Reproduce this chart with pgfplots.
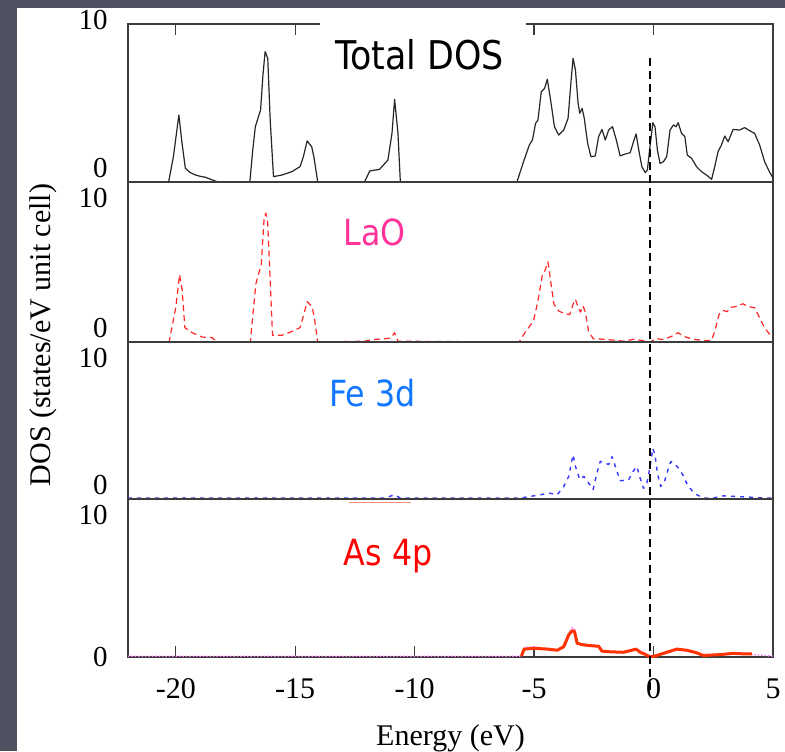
\documentclass[border=0pt]{standalone}
\usepackage{pgfplots}
\pgfplotsset{compat=1.18}
\usepackage{fontspec}
\setmainfont{Liberation Serif}
\newfontfamily\labelfont[FakeStretch=0.88]{DejaVu Sans}

\definecolor{slide}{RGB}{79,81,97}
\definecolor{framegray}{RGB}{60,60,60}
\definecolor{laored}{RGB}{255,40,40}
\definecolor{laotext}{RGB}{255,51,153}
\definecolor{feblue}{RGB}{55,55,255}
\definecolor{fetext}{RGB}{17,119,255}
\definecolor{asline}{RGB}{255,51,0}
\definecolor{asdot}{RGB}{255,110,255}
\definecolor{salmon}{RGB}{250,140,120}

% tick label raised by #1 with an empty box, so the label sits at the tick
\newcommand{\ylab}[2]{\raisebox{#1}[0pt][0pt]{#2}}

\pgfplotsset{
  panel/.style={
    scale only axis, width=322.5pt,
    anchor=south west,
    xmin=-22, xmax=5, ymin=0, ymax=10,
    axis line style={framegray, line width=0.7pt},
    ytick={0,10}, ytick style={draw=none},
    yticklabel style={font=\fontsize{14.5}{17}\selectfont, anchor=east,
      inner sep=0pt, xshift=-10pt},
    xtick={-20,-15,-10,-5,0,5},
    xtick style={framegray, line width=0.7pt},
    major tick length=5.5pt, tick align=inside,
  },
}
\tikzset{
  panellabel/.style={anchor=base west, inner sep=0pt,
    font=\labelfont\fontsize{18}{20}\selectfont},
}

\begin{document}
\begin{tikzpicture}
\useasboundingbox (0,0) rectangle (392.5pt,375.5pt);
\fill[slide] (0,0) rectangle (392.5pt,375.5pt);
\fill[white] (8.5pt,0) rectangle (392.5pt,371.5pt);

% ---- Total DOS ----
\begin{axis}[panel, at={(64pt,284.5pt)}, height=79pt,
  xtick pos=right, xticklabels={},
  yticklabel={\ifnum\ticknum=0 \ylab{2.1pt}{0}\else\ylab{-2.9pt}{10}\fi}]
\addplot[black!85, line width=0.6pt, line join=round] coordinates {
(-22,0) (-20.30,0) (-20.10,1.6) (-19.87,4.24) (-19.75,2.6) (-19.60,0.87) (-19.40,0.6)
(-19.17,0.44) (-18.95,0.35) (-18.76,0.3) (-18.50,0.15) (-18.27,0.02) (-16.90,0)
(-16.78,2.0) (-16.67,3.5) (-16.45,4.56) (-16.35,6.8) (-16.26,8.25) (-16.15,7.83)
(-16.05,4.0) (-15.91,0.34) (-15.56,0.44) (-15.15,0.65) (-14.80,0.97) (-14.66,1.6)
(-14.50,2.6) (-14.31,2.23) (-14.22,1.6) (-14.06,0.02) (-12.10,0) (-11.88,0.7)
(-11.47,0.8) (-11.12,1.39) (-10.95,3.08) (-10.84,5.23) (-10.70,3.1) (-10.60,0.02)
(-5.72,0) (-5.42,1.39) (-5.20,2.34) (-5.07,2.66) (-4.94,3.71) (-4.84,3.92) (-4.70,5.72)
(-4.56,5.93) (-4.45,6.50) (-4.31,5.19) (-4.15,3.50) (-3.97,2.97) (-3.76,3.29) (-3.58,4.03)
(-3.45,6.46) (-3.37,7.83) (-3.27,7.09) (-3.16,4.98) (-3.09,4.35) (-2.99,4.66) (-2.90,4.03)
(-2.76,2.45) (-2.62,1.60) (-2.44,1.65) (-2.30,2.87) (-2.16,3.33) (-2.02,2.66) (-1.88,3.29)
(-1.72,3.50) (-1.56,2.66) (-1.40,1.65) (-1.19,1.77) (-0.98,1.85) (-0.84,2.55) (-0.73,3.04)
(-0.62,2.03) (-0.49,0.97) (-0.35,0.59) (-0.26,0.76) (-0.15,2.23) (-0.03,3.75) (0.06,3.50)
(0.16,2.03) (0.27,1.18) (0.41,1.28) (0.55,1.60) (0.69,3.29) (0.83,3.61) (0.94,3.50)
(1.03,3.75) (1.17,3.08) (1.31,2.87) (1.41,1.71) (1.59,1.50) (1.80,0.97) (2.01,0.65)
(2.22,0.44) (2.43,0.17) (2.56,0.97) (2.70,1.92) (2.84,2.34) (2.98,2.91) (3.12,2.55)
(3.33,3.33) (3.60,3.29) (3.81,3.44) (4.02,3.25) (4.23,3.08) (4.44,2.34) (4.65,1.28)
(4.85,0.65) (5.02,0.2)
};
\coordinate (boxA) at (axis cs:-13.98,5.8);
\coordinate (boxB) at (axis cs:-5.35,10.35);
\coordinate (totlab) at (axis cs:-13.35,7.09);
\coordinate (fermiHigh) at (axis cs:-0.15,8.04);
\end{axis}

% ---- LaO ----
\begin{axis}[panel, at={(64pt,204.5pt)}, height=80pt, xtick=\empty,
  axis on top,
  yticklabel={\ifnum\ticknum=0 \ylab{2.1pt}{0}\else\ylab{-12.9pt}{10}\fi}]
\addplot[laored, line width=0.6pt, dash pattern=on 3pt off 2pt, line join=round] coordinates {
(-22,0) (-20.28,0) (-20.00,2.16) (-19.84,4.21) (-19.73,3.2) (-19.62,0.9) (-19.31,0.58)
(-18.90,0.31) (-18.48,0.27) (-18.27,0) (-16.88,0) (-16.65,3.62) (-16.42,4.87) (-16.30,7.8)
(-16.23,8.05) (-16.15,7.38) (-15.95,0.42) (-15.56,0.42) (-15.15,0.65) (-14.80,0.9)
(-14.66,1.62) (-14.50,2.52) (-14.29,2.2) (-14.18,1.32) (-14.06,0) (-12.09,0.05)
(-11.81,0.15) (-11.25,0.2) (-11.0,0.25) (-10.84,0.58) (-10.70,0.05) (-5.63,0) (-5.35,0.67)
(-5.03,1.3) (-4.84,2.56) (-4.65,4.24) (-4.55,4.45) (-4.42,5.01) (-4.31,3.82) (-4.17,2.36)
(-3.97,1.93) (-3.69,1.76) (-3.51,1.72) (-3.37,2.36) (-3.27,2.67) (-3.16,2.18) (-3.06,1.87)
(-2.95,2.25) (-2.85,1.83) (-2.72,0.67) (-2.53,0.21) (-2.09,0.17) (-1.53,0.1) (-1.26,0.05)
(-0.84,0.17) (-0.49,0.1) (-0.15,0) (0.13,0.21) (0.41,0.15) (0.76,0.36) (1.03,0.58)
(1.24,0.36) (1.66,0.17) (2.08,0.1) (2.43,0.1) (2.56,0.67) (2.74,1.72) (2.91,1.97)
(3.08,1.9) (3.26,2.18) (3.47,2.22) (3.74,2.39) (3.95,2.22) (4.23,2.14) (4.44,1.51)
(4.65,0.88) (5.0,0.21)
};
\node[panellabel, text=laotext] at (axis cs:-12.98,6.06) {LaO};
\end{axis}

% ---- Fe 3d ----
\begin{axis}[panel, at={(64pt,126pt)}, height=78.5pt, xtick=\empty,
  yticklabel={\ifnum\ticknum=0 \ylab{2.1pt}{0}\else\ylab{-12.9pt}{10}\fi}]
\addplot[feblue, line width=0.7pt, dash pattern=on 2pt off 2.5pt, line join=round] coordinates {
(-22,0.06) (-11.26,0.06) (-10.84,0.27) (-10.6,0.06) (-5.56,0.06) (-5.15,0.17) (-4.73,0.27)
(-4.38,0.38) (-4.03,0.27) (-3.76,0.8) (-3.55,1.44) (-3.37,2.82) (-3.27,2.08) (-3.09,1.24)
(-2.92,1.44) (-2.72,1.02) (-2.53,0.6) (-2.37,1.66) (-2.23,2.4) (-2.06,2.3) (-1.88,2.2)
(-1.74,2.7) (-1.60,2.08) (-1.40,1.17) (-1.05,1.2) (-0.87,1.74) (-0.70,2.08) (-0.56,1.32)
(-0.42,0.68) (-0.28,1.02) (-0.17,1.85) (-0.03,3.23) (0.06,2.82) (0.16,1.66) (0.30,0.8)
(0.44,1.02) (0.58,1.74) (0.72,2.38) (0.85,2.3) (1.03,1.98) (1.22,1.55) (1.45,0.8)
(1.73,0.34) (2.08,0.06) (2.49,0.06) (2.91,0.2) (3.33,0.17) (3.89,0.13) (4.44,0.08)
(4.85,0.06) (5,0.06)
};
\node[panellabel, text=fetext] at (axis cs:-13.6,5.92) {Fe 3d};
\end{axis}

% ---- As 4p ----
\begin{axis}[panel, at={(64pt,47pt)}, height=79pt,
  xtick pos=left,
  xticklabels={-20,-15,-10,-5,0,5},
  xticklabel style={font=\fontsize{15}{18}\selectfont, anchor=north,
    inner sep=0pt, yshift=-10.5pt},
  yticklabel={\ifnum\ticknum=0 \ylab{-4.9pt}{0}\else\ylab{-12.9pt}{10}\fi},
  xlabel={Energy (eV)},
  xlabel style={at={(axis description cs:0.5,0)}, anchor=north, inner sep=0pt,
    yshift=-33.5pt, font=\fontsize{15}{18}\selectfont}]
\addplot[salmon, line width=0.5pt] coordinates {(-12.76,9.8) (-10.15,9.8)};
\addplot[asdot, line width=0.7pt, densely dotted] coordinates {
(-22,0.05) (-5.6,0.05) (-5.5,0.1) (-5.4,0.6) (-5.0,0.65) (-4.5,0.55) (-4.0,0.45) (-3.75,0.7)
(-3.55,1.5) (-3.4,1.85) (-3.3,1.75) (-3.2,0.9) (-3.0,0.8) (-2.5,0.75) (-2.2,0.45)
(-1.8,0.35) (-1.3,0.25) (-0.9,0.4) (-0.7,0.5) (-0.5,0.3) (-0.2,0.1) (0,0.05) (0.4,0.2)
(1.0,0.45) (1.5,0.35) (2.0,0.12) (2.8,0.12) (3.3,0.2) (3.8,0.2) (4.2,0.15) (4.6,0.1) (5,0.05)
};
\addplot[asline, line width=1.5pt, line join=round] coordinates {
(-5.53,0.06) (-5.42,0.5) (-5.01,0.55) (-4.45,0.5) (-4.03,0.43) (-3.76,0.65) (-3.55,1.41)
(-3.41,1.66) (-3.31,1.62) (-3.20,0.87) (-2.99,0.78) (-2.65,0.72) (-2.30,0.68) (-2.16,0.37)
(-1.81,0.33) (-1.26,0.3) (-0.91,0.43) (-0.73,0.5) (-0.56,0.3) (-0.35,0.17) (-0.15,0.0)
(0.06,0.06) (0.41,0.23) (0.97,0.5) (1.38,0.43) (1.80,0.27) (2.08,0.1) (2.77,0.15)
(3.33,0.23) (3.74,0.2) (4.13,0.2)
};
\node[panellabel, text=red] at (axis cs:-12.98,5.82) {As 4p};
\coordinate (fermiLow) at (axis cs:-0.15,-2.09);
\end{axis}

% label box and Fermi level
\fill[white] (boxA) rectangle (boxB);
\node[anchor=base west, inner sep=0pt, font=\labelfont\fontsize{19.8}{21}\selectfont]
  at (totlab) {Total DOS};
\draw[black, line width=0.8pt, dash pattern=on 4pt off 2.5pt] (fermiLow) -- (fermiHigh);

\node[rotate=90, anchor=base, inner sep=0pt, font=\fontsize{15}{18}\selectfont]
  at (25pt,208pt) {DOS (states/eV unit cell)};
\end{tikzpicture}
\end{document}
